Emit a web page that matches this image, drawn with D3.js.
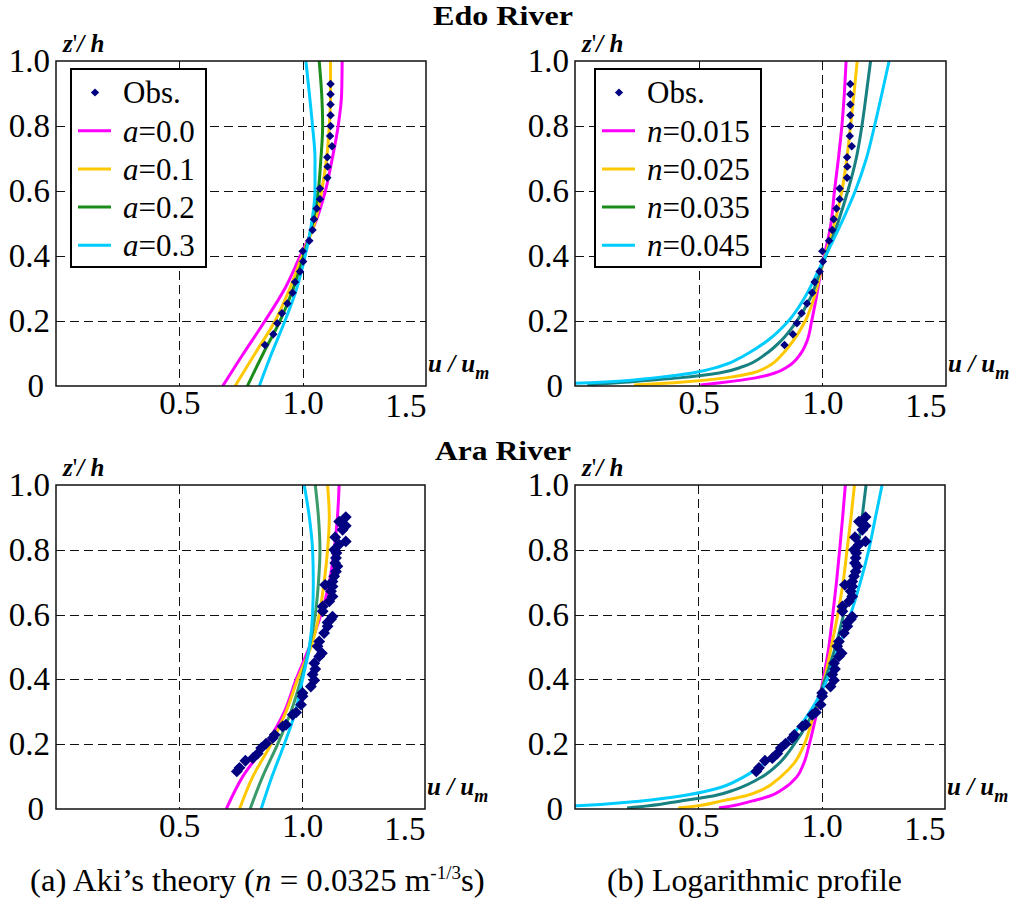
<!DOCTYPE html>
<html>
<head>
<meta charset="utf-8">
<script src="https://cdn.jsdelivr.net/npm/d3@7"></script>
<style>
body { margin: 0; background: #fff; }
svg { display: block; }
text { font-family: "Liberation Serif", "Times New Roman", serif; fill: #000; }
</style>
</head>
<body>
<div id="chart"></div>
<script>
// axes
const xTicks = [0.5, 1.0, 1.5];
const xTickLabels = ["0.5", "1.0", "1.5"];
const yTicks = [0, 0.2, 0.4, 0.6, 0.8, 1.0];
const yTickLabels = ["0", "0.2", "0.4", "0.6", "0.8", "1.0"];
const gridX = [0.5, 1.0];
const gridY = [0.2, 0.4, 0.6, 0.8];

// legend labels
const akiLabels = ["0.0", "0.1", "0.2", "0.3"];
const logLabels = ["0.015", "0.025", "0.035", "0.045"];

// Aki's theory, z'/h levels
const akiZ = [0, 0.1, 0.2, 0.3, 0.4, 0.5, 0.6, 0.7, 0.8, 0.9, 1.0];
const edoAki00 = [0.676, 0.76, 0.847, 0.928, 0.99, 1.05, 1.092, 1.12, 1.144, 1.158, 1.16];
const edoAki01 = [0.726, 0.807, 0.888, 0.948, 0.998, 1.048, 1.077, 1.097, 1.108, 1.113, 1.113];
const edoAki02 = [0.776, 0.84, 0.908, 0.962, 1.004, 1.04, 1.063, 1.074, 1.081, 1.077, 1.067];
const edoAki03 = [0.824, 0.874, 0.928, 0.976, 1.01, 1.036, 1.05, 1.05, 1.04, 1.027, 1.013];
const araAki00 = [0.692, 0.759, 0.854, 0.928, 0.976, 1.03, 1.077, 1.111, 1.131, 1.144, 1.151];
const araAki01 = [0.746, 0.8, 0.874, 0.935, 0.982, 1.036, 1.07, 1.09, 1.104, 1.111, 1.104];
const araAki02 = [0.789, 0.84, 0.901, 0.955, 0.996, 1.03, 1.054, 1.067, 1.073, 1.067, 1.054];
const araAki03 = [0.834, 0.878, 0.928, 0.973, 1.002, 1.03, 1.043, 1.046, 1.043, 1.03, 1.009];

// logarithmic profile, z'/h levels
const logZ = [0.003, 0.01, 0.025, 0.04, 0.06, 0.1, 0.14, 0.2, 0.27, 0.36, 0.5, 0.6, 0.7, 0.8, 0.9, 1.0];
const edoLog015 = [0.507, 0.588, 0.73, 0.808, 0.861, 0.913, 0.939, 0.957, 0.975, 0.996, 1.035, 1.049, 1.065, 1.079, 1.089, 1.096];
const edoLog025 = [0.239, 0.401, 0.61, 0.717, 0.78, 0.841, 0.883, 0.931, 0.966, 0.996, 1.049, 1.079, 1.099, 1.114, 1.128, 1.141];
const edoLog035 = [0.05, 0.171, 0.42, 0.583, 0.68, 0.774, 0.834, 0.897, 0.951, 0.994, 1.062, 1.103, 1.137, 1.16, 1.178, 1.195];
const edoLog045 = [-0.2, 0.063, 0.32, 0.475, 0.585, 0.699, 0.779, 0.863, 0.927, 0.987, 1.076, 1.133, 1.178, 1.211, 1.241, 1.27];
const araLog015 = [0.584, 0.64, 0.72, 0.79, 0.84, 0.9, 0.927, 0.95, 0.972, 0.996, 1.029, 1.045, 1.06, 1.073, 1.085, 1.096];
const araLog025 = [0.418, 0.5, 0.595, 0.69, 0.76, 0.835, 0.887, 0.93, 0.96, 0.998, 1.039, 1.065, 1.087, 1.103, 1.119, 1.133];
const araLog035 = [0.211, 0.3, 0.43, 0.56, 0.65, 0.76, 0.826, 0.889, 0.946, 0.995, 1.056, 1.089, 1.124, 1.146, 1.164, 1.18];
const araLog045 = [-0.2, 0.008, 0.27, 0.43, 0.56, 0.686, 0.765, 0.848, 0.925, 0.998, 1.069, 1.117, 1.157, 1.191, 1.218, 1.245];

// observations
const edoObsU = [0.847, 0.881, 0.897, 0.916, 0.938, 0.959, 0.969, 0.989, 1.002, 1.0, 1.027, 1.04, 1.046, 1.057, 1.07, 1.07, 1.1, 1.101, 1.1, 1.119, 1.111, 1.113, 1.113, 1.113, 1.113, 1.113];
const edoObsZ = [0.126, 0.159, 0.193, 0.224, 0.254, 0.287, 0.32, 0.352, 0.383, 0.415, 0.447, 0.48, 0.513, 0.546, 0.575, 0.608, 0.641, 0.675, 0.704, 0.738, 0.769, 0.8, 0.833, 0.866, 0.898, 0.929];
const araObsU = [0.735, 0.746, 0.77, 0.8, 0.82, 0.834, 0.854, 0.881, 0.889, 0.921, 0.935, 0.962, 0.976, 0.996, 1.002, 1.002, 1.036, 1.05, 1.043, 1.054, 1.05, 1.07, 1.081, 1.063, 1.07, 1.09, 1.104, 1.104, 1.118, 1.124, 1.084, 1.084, 1.111, 1.124, 1.118, 1.124, 1.094, 1.124, 1.131, 1.138, 1.144, 1.135, 1.138, 1.14, 1.131, 1.151, 1.178, 1.135, 1.165, 1.178, 1.151, 1.178];
const araObsZ = [0.116, 0.127, 0.149, 0.157, 0.171, 0.188, 0.202, 0.219, 0.229, 0.255, 0.26, 0.291, 0.298, 0.322, 0.348, 0.358, 0.378, 0.397, 0.415, 0.432, 0.45, 0.471, 0.481, 0.502, 0.517, 0.543, 0.564, 0.576, 0.586, 0.594, 0.61, 0.625, 0.641, 0.656, 0.672, 0.687, 0.692, 0.702, 0.718, 0.733, 0.749, 0.759, 0.775, 0.79, 0.8, 0.816, 0.826, 0.839, 0.862, 0.874, 0.887, 0.901];

const pink = "#ff00ff", yellow = "#ffc800", green = "#1a8c1a", teal = "#188080",
      seagreen = "#3a9a6a", cyan = "#00ccff", navy = "#000080";

const svg = d3.select("#chart").append("svg")
    .attr("width", 1011)
    .attr("height", 902);
const defs = svg.append("defs");

function drawPanel(p) {
    const x = d3.scaleLinear().domain([0, 1.5]).range([p.left, p.right]);
    const y = d3.scaleLinear().domain([0, 1]).range([p.bottom, p.top]);
    const g = svg.append("g");

    defs.append("clipPath").attr("id", "clip-" + p.id)
        .append("rect")
        .attr("x", p.left).attr("y", p.top)
        .attr("width", p.right - p.left).attr("height", p.bottom - p.top);

    // grille
    g.selectAll(".gx").data(gridX).join("line")
        .attr("x1", d => Math.round(x(d)) + 0.5).attr("x2", d => Math.round(x(d)) + 0.5)
        .attr("y1", p.top).attr("y2", p.bottom)
        .attr("stroke", "#111").attr("stroke-width", 1).attr("stroke-dasharray", "9,5");
    g.selectAll(".gy").data(gridY).join("line")
        .attr("x1", p.left).attr("x2", p.right)
        .attr("y1", d => Math.round(y(d)) + 0.5).attr("y2", d => Math.round(y(d)) + 0.5)
        .attr("stroke", "#111").attr("stroke-width", 1).attr("stroke-dasharray", "9,5");

    // courbes
    const line = d3.line()
        .x(d => x(d[0]))
        .y(d => y(d[1]))
        .curve(d3.curveMonotoneY);
    const plot = g.append("g").attr("clip-path", "url(#clip-" + p.id + ")");
    p.curves.forEach(c => {
        plot.append("path")
            .datum(d3.zip(c.u, p.z))
            .attr("d", line)
            .attr("fill", "none")
            .attr("stroke", c.color)
            .attr("stroke-width", 3)
            .attr("stroke-linejoin", "round");
    });

    // mesures
    const diamond = d3.symbol(d3.symbolSquare, p.obsSize);
    plot.selectAll(".obs").data(d3.zip(p.obsU, p.obsZ)).join("path")
        .attr("d", diamond)
        .attr("transform", d => `translate(${x(d[0])},${y(d[1])}) rotate(45)`)
        .attr("fill", navy);

    // cadre
    g.append("rect")
        .attr("x", p.left).attr("y", p.top)
        .attr("width", p.right - p.left).attr("height", p.bottom - p.top)
        .attr("fill", "none").attr("stroke", "#111").attr("stroke-width", 1.5);

    // axes
    const yAxis = g.append("g")
        .attr("transform", `translate(${p.left},0)`)
        .call(d3.axisLeft(y).tickValues(yTicks).tickFormat((d, i) => yTickLabels[i]).tickSize(0).tickPadding(6));
    yAxis.select(".domain").remove();
    yAxis.attr("font-size", 33).attr("font-family", "Liberation Serif");
    yAxis.selectAll("text").filter(d => d === 0).attr("x", -12);

    const xAxis = g.append("g")
        .attr("transform", `translate(0,${p.bottom})`)
        .call(d3.axisBottom(x).tickValues(xTicks).tickFormat((d, i) => xTickLabels[i]).tickSize(0).tickPadding(5));
    xAxis.select(".domain").remove();
    xAxis.attr("font-size", 33).attr("font-family", "Liberation Serif");
    xAxis.selectAll("text").filter(d => d === 1.5).attr("text-anchor", "end").attr("dy", "0.78em");

    // titres des axes
    const zl = g.append("text")
        .attr("x", p.left + 7).attr("y", p.top - 9)
        .attr("font-size", 25).attr("font-style", "italic").attr("font-weight", "bold");
    zl.append("tspan").text("z");
    zl.append("tspan").attr("font-style", "normal").attr("font-weight", "normal").text("'");
    zl.append("tspan").text("/ h");

    const ul = g.append("text")
        .attr("x", p.right + 2).attr("y", p.bottom - 14)
        .attr("font-size", 25).attr("font-style", "italic").attr("font-weight", "bold");
    ul.append("tspan").text("u / u");
    ul.append("tspan").attr("font-size", 18).attr("dy", 7).text("m");

    // légende
    if (p.legend) {
        const L = p.legend;
        const lg = g.append("g");
        lg.append("rect")
            .attr("x", p.left + L.dx).attr("y", p.top + 8)
            .attr("width", L.w).attr("height", 198)
            .attr("fill", "#fff").attr("stroke", "#000").attr("stroke-width", 2);
        const rowY = i => p.top + 31.5 + i * 38.2;
        lg.append("path")
            .attr("d", d3.symbol(d3.symbolSquare, 34))
            .attr("transform", `translate(${p.left + L.dx + 24},${rowY(0)}) rotate(45)`)
            .attr("fill", navy);
        lg.append("text")
            .attr("x", p.left + L.dx + 52).attr("y", rowY(0)).attr("dy", "0.35em")
            .attr("font-size", 31).text("Obs.");
        L.labels.forEach((lab, i) => {
            lg.append("line")
                .attr("x1", p.left + L.dx + 7).attr("x2", p.left + L.dx + 40)
                .attr("y1", rowY(i + 1)).attr("y2", rowY(i + 1))
                .attr("stroke", L.colors[i]).attr("stroke-width", 3);
            const t = lg.append("text")
                .attr("x", p.left + L.dx + 52).attr("y", rowY(i + 1)).attr("dy", "0.35em")
                .attr("font-size", 31);
            t.append("tspan").attr("font-style", "italic").text(L.sym);
            t.append("tspan").text("=" + lab);
        });
    }
}

drawPanel({
    id: "tl", left: 56, right: 426, top: 61, bottom: 386, z: akiZ,
    curves: [
        {u: edoAki00, color: pink}, {u: edoAki01, color: yellow},
        {u: edoAki02, color: green}, {u: edoAki03, color: cyan}
    ],
    obsU: edoObsU, obsZ: edoObsZ, obsSize: 36,
    legend: {dx: 15, w: 135, sym: "a", labels: akiLabels, colors: [pink, yellow, green, cyan]}
});
drawPanel({
    id: "tr", left: 575, right: 946, top: 61, bottom: 386, z: logZ,
    curves: [
        {u: edoLog015, color: pink}, {u: edoLog025, color: yellow},
        {u: edoLog035, color: teal}, {u: edoLog045, color: cyan}
    ],
    obsU: edoObsU, obsZ: edoObsZ, obsSize: 36,
    legend: {dx: 20, w: 166, sym: "n", labels: logLabels, colors: [pink, yellow, green, cyan]}
});
drawPanel({
    id: "bl", left: 56, right: 425, top: 485, bottom: 809, z: akiZ,
    curves: [
        {u: araAki00, color: pink}, {u: araAki01, color: yellow},
        {u: araAki02, color: seagreen}, {u: araAki03, color: cyan}
    ],
    obsU: araObsU, obsZ: araObsZ, obsSize: 70
});
drawPanel({
    id: "br", left: 575, right: 945, top: 485, bottom: 809, z: logZ,
    curves: [
        {u: araLog015, color: pink}, {u: araLog025, color: yellow},
        {u: araLog035, color: teal}, {u: araLog045, color: cyan}
    ],
    obsU: araObsU, obsZ: araObsZ, obsSize: 70
});

// titres et légendes du bas, étirés à la largeur de l'original
function stretched(xPos, yPos, width, anchor, build) {
    const g = svg.append("g");
    const t = g.append("text").attr("text-anchor", anchor);
    build(t);
    const w = t.node().getComputedTextLength();
    g.attr("transform", `translate(${xPos},${yPos}) scale(${width / w},1)`);
}

stretched(503, 25, 140, "middle", t => t.attr("font-size", 28).attr("font-weight", "bold").text("Edo River"));
stretched(503, 460, 136, "middle", t => t.attr("font-size", 28).attr("font-weight", "bold").text("Ara River"));
stretched(30, 891, 455, "start", t => {
    t.attr("font-size", 31);
    t.append("tspan").text("(a) Aki\u2019s theory (");
    t.append("tspan").attr("font-style", "italic").text("n");
    t.append("tspan").text(" = 0.0325 m");
    t.append("tspan").attr("font-size", 18).attr("dy", -12).text("-1/3");
    t.append("tspan").attr("dy", 12).text("s)");
});
stretched(607, 891, 295, "start", t => t.attr("font-size", 31).text("(b) Logarithmic profile"));
</script>
</body>
</html>
